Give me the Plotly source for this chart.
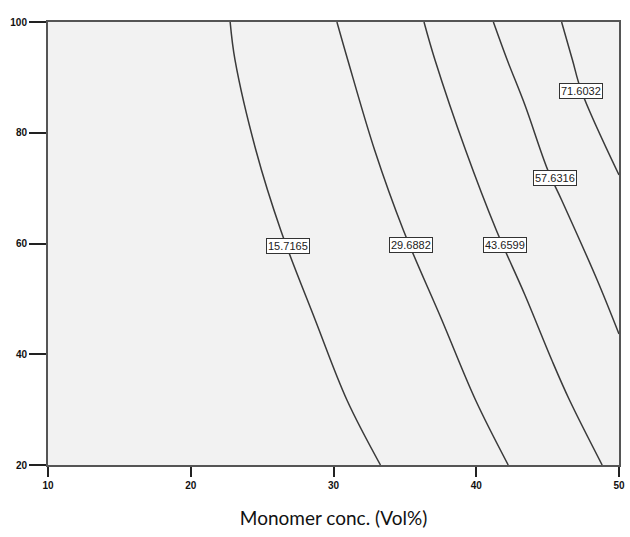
import plotly.graph_objects as go

# Contour levels and their traced paths (x = monomer conc., y = second factor)
levels = ["15.7165", "29.6882", "43.6599", "57.6316", "71.6032"]

c1_x = [22.76, 23.10, 24.56, 26.30, 28.72, 30.94, 33.29]
c1_y = [100.0, 93.14, 76.88, 62.44, 46.19, 31.74, 20.0]

c2_x = [30.24, 31.00, 32.88, 34.89, 37.59, 39.95, 42.24]
c2_y = [100.0, 93.14, 76.88, 62.44, 46.19, 31.74, 20.0]

c3_x = [36.34, 37.11, 39.25, 41.40, 43.41, 45.29, 46.53, 48.82]
c3_y = [100.0, 93.14, 76.88, 62.44, 50.70, 38.96, 31.74, 20.0]

c4_x = [41.20, 42.17, 43.41, 45.01, 45.98, 48.47, 50.0]
c4_y = [100.0, 93.14, 85.01, 73.27, 67.86, 53.41, 43.66]

c5_x = [45.98, 46.74, 47.37, 50.0]
c5_y = [100.0, 93.14, 87.5, 72.37]

label_x = [26.78, 35.44, 42.03, 45.49, 47.37]
label_y = [59.6, 59.7, 59.7, 71.8, 87.5]

x_ticks = [10, 20, 30, 40, 50]
y_ticks = [20, 40, 60, 80, 100]

fig = go.Figure()
for xs, ys in [(c1_x, c1_y), (c2_x, c2_y), (c3_x, c3_y), (c4_x, c4_y), (c5_x, c5_y)]:
    fig.add_trace(go.Scatter(x=xs, y=ys, mode="lines",
                             line=dict(color="#3a3a3a", width=1.5, shape="spline", smoothing=1.0),
                             showlegend=False, hoverinfo="skip"))

for lx, ly, t in zip(label_x, label_y, levels):
    fig.add_annotation(x=lx, y=ly, text=t, showarrow=False,
                       font=dict(family="Liberation Sans, Arial", size=11, color="#222"),
                       bgcolor="white", bordercolor="#333", borderwidth=1, borderpad=1)

fig.update_layout(
    width=630, height=537,
    margin=dict(l=48, r=5, t=22, b=72),
    paper_bgcolor="white", plot_bgcolor="#f2f2f2",
    xaxis=dict(range=[10, 50], tickvals=x_ticks, ticks="outside", ticklen=10,
               tickcolor="#222", tickwidth=1.5,
               showline=True, linecolor="#555", linewidth=2, mirror=True,
               showgrid=False, zeroline=False,
               tickfont=dict(family="Liberation Sans, Arial", size=10, color="#111", weight="bold"),
               title=dict(text="Monomer conc. (Vol%)", standoff=22,
                          font=dict(family="Lato, Liberation Sans", size=19, color="#111"))),
    yaxis=dict(range=[20, 100], tickvals=y_ticks, ticks="outside", ticklen=17,
               tickcolor="#222", tickwidth=1.5,
               showline=True, linecolor="#555", linewidth=2, mirror=True,
               showgrid=False, zeroline=False,
               tickfont=dict(family="Liberation Sans, Arial", size=10, color="#111", weight="bold")),
)

fig.write_html("out.html")
